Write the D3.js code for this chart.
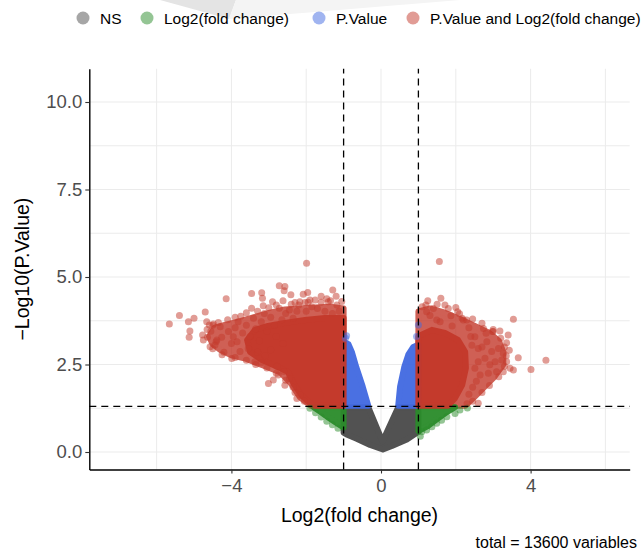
<!DOCTYPE html>
<html>
<head>
<meta charset="utf-8">
<script src="https://cdn.jsdelivr.net/npm/d3@7"></script>
<style>
  body { margin: 0; background: #fff; }
  svg { display: block; font-family: "Liberation Sans", Arial, sans-serif; }
</style>
</head>
<body>
<div id="volcano"></div>
<script>
// chart values: [log2 fold change, -log10 p]
const groups = ["NS", "Log2(fold change)", "P.Value", "P.Value and Log2(fold change)"];
const xTicks = [-4, 0, 4];
const yTicks = [0, 2.5, 5, 7.5, 10];
const xGrid = [-6, -4, -2, 0, 2, 4, 6];
const yGrid = [0, 1.25, 2.5, 3.75, 5, 6.25, 7.5, 8.75, 10];
const fcCutoff = 1;
const pCutoff = 0.05;
const totalVariables = 13600;

// outlines of the parts where points overlap into a solid mass
const nsOutline = [[-1.0,1.28],[-0.34,1.28],[0.04,0.3],[0.46,1.28],[1.0,1.28],[1.0,0.58],[0.69,0.36],[0.29,0.17],[0.05,0.07],[-0.29,0.2],[-0.65,0.38],[-0.92,0.5],[-1.0,0.55]];
const pOutlineLeft = [[-1.0,1.32],[-0.34,1.32],[-0.49,1.87],[-0.66,2.42],[-0.78,2.86],[-0.87,3.08],[-1.0,3.15]];
const pOutlineRight = [[0.46,1.32],[0.51,1.87],[0.62,2.42],[0.73,2.78],[0.86,3.0],[1.0,3.06],[1.0,1.32]];
const fcOutlineLeft = [[-1.0,1.28],[-1.8,1.28],[-1.62,1.15],[-1.4,0.98],[-1.15,0.8],[-1.0,0.7]];
const fcOutlineRight = [[1.0,1.28],[1.98,1.28],[1.76,1.14],[1.5,0.94],[1.25,0.74],[1.0,0.6]];
const sigCloudLeft = [[-1.0,1.32],[-1.87,1.32],[-2.17,1.57],[-2.4,1.95],[-2.7,2.28],[-3.15,2.47],[-3.6,2.66],[-4.0,2.76],[-4.3,2.92],[-4.5,3.08],[-4.6,3.3],[-4.45,3.55],[-4.15,3.64],[-3.77,3.74],[-3.37,3.86],[-2.97,3.98],[-2.57,4.07],[-2.17,4.1],[-1.76,4.13],[-1.36,4.15],[-1.0,4.1]];
const sigCoreLeft = [[-1.0,1.32],[-1.82,1.32],[-2.11,1.6],[-2.33,1.94],[-2.49,2.29],[-2.83,2.46],[-3.18,2.63],[-3.5,2.86],[-3.58,3.2],[-3.37,3.49],[-3.02,3.6],[-2.57,3.69],[-2.03,3.77],[-1.5,3.83],[-1.0,3.83]];
const sigCloudRight = [[1.0,1.32],[1.0,4.02],[1.31,4.1],[1.71,3.98],[2.11,3.8],[2.51,3.6],[2.9,3.4],[3.15,3.18],[3.27,2.86],[3.27,2.5],[3.02,2.13],[2.76,1.85],[2.49,1.56],[2.25,1.32]];
const sigCoreRight = [[1.0,1.32],[1.0,3.31],[1.36,3.49],[1.71,3.4],[2.06,3.2],[2.25,2.86],[2.27,2.4],[2.17,1.91],[1.98,1.54],[1.79,1.32]];

// single points lying outside the solid masses
const sigPoints = [
  [-5.66,3.66],[-5.39,3.9],[-5.15,3.72],[-5.0,3.82],[-5.11,3.46],[-5.13,3.28],
  [-4.7,4.0],[-4.66,3.72],[-4.59,3.63],[-4.48,3.66],[-4.77,3.34],[-4.64,3.28],
  [-4.41,3.15],[-4.57,3.01],[-4.44,3.06],[-4.39,3.2],[-4.14,4.38],[-4.26,3.28],
  [-4.08,3.44],[-3.82,3.72],[-3.95,3.29],[-3.99,2.67],[-3.77,2.87],[-3.46,4.53],
  [-3.46,4.11],[-3.41,3.82],[-3.37,2.58],[-3.19,4.55],[-3.17,4.39],[-3.12,3.96],
  [-2.9,4.29],[-2.72,4.75],[-2.57,4.73],[-2.59,4.61],[-2.72,4.11],[-2.41,4.49],
  [-2.3,4.27],[-2.17,4.29],[-2.08,4.51],[-1.96,4.56],[-1.99,5.39],[-2.03,4.27],
  [-1.9,4.34],[-1.76,4.34],[-1.29,4.63],[-1.41,4.29],[-1.18,4.2],[-3.01,1.96],
  [-2.88,2.06],[-2.75,2.2],[-2.57,1.91],[-2.17,1.63],[-2.25,1.53],
  [-3.9,3.55],[-3.7,3.4],[-3.6,3.62],[-3.5,3.3],[-3.35,3.52],[-3.25,3.18],
  [-3.2,3.72],[-3.05,3.45],[-2.95,3.85],[-2.85,3.62],[-2.8,3.3],[-2.65,3.78],
  [-2.55,3.96],[-2.45,4.06],[-2.35,3.82],[-2.25,4.02],[-2.62,3.1],[-3.55,2.95],
  [-3.3,2.85],[-3.1,2.75],[-2.95,2.92],[-4.3,3.58],[-4.0,3.1],[-3.75,3.88],
  [-3.15,4.18],[-2.62,4.32],[-2.0,4.02],[-1.7,4.1],[-1.5,4.02],[-1.3,3.96],
  [-1.12,4.02],[-1.6,4.45],[-1.45,4.38],[-1.85,4.15],[-1.2,4.45],[-1.05,4.3],
  [-2.78,2.45],[-2.6,2.3],[-2.45,2.1],[-2.35,1.85],[-3.2,2.55],[-4.2,2.85],
  [-3.85,3.15],[-4.55,3.45],
  [-4.75,3.2],[-4.65,3.5],[-4.5,3.62],[-4.35,3.7],[-4.1,3.78],[-3.9,3.85],
  [-3.6,3.98],[-3.3,4.02],[-3.0,4.12],[-2.8,4.2],[-2.4,4.22],[-2.2,4.2],
  [-1.95,4.28],[-1.6,4.28],[-1.35,4.32],[-4.5,2.95],[-4.25,2.78],[-3.9,2.7],
  [-3.6,2.62],[-3.35,2.5],[-3.05,2.4],[-2.8,2.25],[-2.55,2.05],[-2.3,1.7],
  [-2.05,1.45],
  [1.56,5.44],[1.25,4.32],[1.6,4.39],[1.71,4.2],[2.0,4.13],[2.05,4.01],
  [1.87,3.89],[2.17,3.82],[2.29,3.77],[1.22,4.01],[1.31,3.9],[1.49,3.77],
  [1.58,3.72],[2.74,3.53],[2.98,3.44],[3.54,3.79],[4.41,2.62],[4.01,2.36],
  [3.67,2.69],[3.43,2.91],[3.36,3.12],[3.4,3.34],[3.18,3.46],[3.0,3.44],
  [2.81,3.39],[2.2,3.77],[2.51,3.29],[2.43,3.05],[2.6,2.96],[2.83,3.15],
  [2.96,2.87],[3.14,2.96],[3.27,2.82],[3.23,2.63],[3.05,2.58],[3.36,2.58],
  [3.45,2.39],[3.54,2.34],[3.27,2.29],[3.09,2.29],[2.91,2.49],[2.78,2.68],
  [2.6,2.58],[2.51,2.39],[2.87,2.25],[2.65,2.2],[2.6,1.39],[2.45,1.85],
  [2.35,1.65],[2.55,2.02],[1.4,4.1],[1.1,4.15],[1.9,3.6],[2.35,3.55],
  [2.4,3.3],[2.7,3.0],
  [3.35,2.75],[3.3,3.0],[3.2,3.25],[3.0,3.5],[2.7,3.68],[2.45,3.8],
  [2.1,3.95],[1.8,4.1],[1.5,4.22],[1.2,4.2],[3.3,2.45],[3.15,2.15],
  [2.9,1.9],[2.7,1.7],[2.45,1.45],[2.3,1.38]
];
const fcPoints = [
  [2.31,1.26],[2.11,1.2],[1.98,1.1],[1.76,1.01],[1.62,0.91],[1.49,0.82],
  [1.36,0.72],[1.22,0.63],[1.09,0.58],[1.05,0.45],
  [-1.9,1.25],[-1.75,1.12],[-1.6,1.0],[-1.45,0.88],[-1.3,0.78],[-1.15,0.68]
];
const pPoints = [[1.0,3.63],[-0.92,3.32],[0.95,3.3],[-0.95,3.25]];

const width = 641, height = 551;

const svg = d3.select("#volcano").append("svg")
    .attr("width", width)
    .attr("height", height);

const x = d3.scaleLinear().domain([-7.8, 6.65]).range([89.3, 629.7]);
const y = d3.scaleLinear().domain([-0.5, 10.95]).range([469.5, 68.75]);
const colour = d3.scaleOrdinal()
    .domain(groups)
    .range(["#4d4d4d", "#2a8c2a", "#4169e1", "#c4392b"]);

// faint grey smear across the top of the source image
svg.append("path")
    .attr("d", "M160,0 L236,0 L229,19 Z")
    .attr("fill", "#e4e4e4");
svg.append("path")
    .attr("d", "M236,0 L460,0 L229,19 Z")
    .attr("fill", "#f4f4f4");

svg.append("clipPath").attr("id", "panel")
    .append("rect")
    .attr("x", x.range()[0]).attr("y", y.range()[1])
    .attr("width", x.range()[1] - x.range()[0])
    .attr("height", y.range()[0] - y.range()[1]);

// grid
let grid = svg.append("g").attr("stroke", "#ebebeb").attr("stroke-width", 1);
grid.selectAll(".gx").data(xGrid).enter().append("line")
    .attr("x1", d => x(d)).attr("x2", d => x(d))
    .attr("y1", y.range()[0]).attr("y2", y.range()[1]);
grid.selectAll(".gy").data(yGrid).enter().append("line")
    .attr("y1", d => y(d)).attr("y2", d => y(d))
    .attr("x1", x.range()[0]).attr("x2", x.range()[1]);

let plot = svg.append("g").attr("clip-path", "url(#panel)");

const outline = d3.line()
    .x(d => x(d[0]))
    .y(d => y(d[1]))
    .curve(d3.curveLinearClosed);

function mass(data, group, alpha) {
    plot.append("g").attr("opacity", alpha)
        .append("path")
        .attr("d", outline(data))
        .attr("fill", colour(group))
        .attr("stroke", colour(group))
        .attr("stroke-width", 6)
        .attr("stroke-linejoin", "round");
}

mass(sigCloudLeft, groups[3], 0.8);
mass(sigCloudRight, groups[3], 0.8);
mass(nsOutline, groups[0], 0.97);
mass(fcOutlineLeft, groups[1], 0.95);
mass(fcOutlineRight, groups[1], 0.95);
mass(pOutlineLeft, groups[2], 0.95);
mass(pOutlineRight, groups[2], 0.95);
mass(sigCoreLeft, groups[3], 0.96);
mass(sigCoreRight, groups[3], 0.96);

function dots(data, group) {
    plot.append("g").selectAll("circle")
        .data(data)
        .enter().append("circle")
        .attr("cx", d => x(d[0]))
        .attr("cy", d => y(d[1]))
        .attr("r", 3.5)
        .attr("fill", colour(group))
        .attr("fill-opacity", 0.5);
}

dots(fcPoints, groups[1]);
dots(pPoints, groups[2]);
dots(sigPoints, groups[3]);

// cut-off lines
let cuts = svg.append("g")
    .attr("stroke", "#000")
    .attr("stroke-width", 1.3)
    .attr("stroke-dasharray", "7,5");
cuts.selectAll(".vcut").data([-fcCutoff, fcCutoff]).enter().append("line")
    .attr("x1", d => x(d)).attr("x2", d => x(d))
    .attr("y1", y.range()[0]).attr("y2", y.range()[1]);
cuts.append("line")
    .attr("x1", x.range()[0]).attr("x2", x.range()[1])
    .attr("y1", y(-Math.log10(pCutoff))).attr("y2", y(-Math.log10(pCutoff)));

// axes
svg.append("g")
    .attr("transform", "translate(0," + y.range()[0] + ")")
    .call(d3.axisBottom(x).tickValues(xTicks).tickSize(4).tickSizeOuter(0).tickPadding(5));
svg.append("g")
    .attr("transform", "translate(" + x.range()[0] + ",0)")
    .call(d3.axisLeft(y).tickValues(yTicks).tickFormat(d3.format(".1f")).tickSize(4).tickSizeOuter(0).tickPadding(3));

svg.selectAll(".domain").attr("stroke", "#000").attr("stroke-width", 1.4);
svg.selectAll(".tick line").attr("stroke", "#333").attr("stroke-width", 1.1);
svg.selectAll(".tick text")
    .attr("fill", "#4d4d4d")
    .style("font-size", "18.5px")
    .style("font-family", "'Liberation Sans', Arial, sans-serif");

svg.append("text")
    .attr("x", (x.range()[0] + x.range()[1]) / 2)
    .attr("y", 522)
    .attr("text-anchor", "middle")
    .style("font-size", "19.5px")
    .text("Log2(fold change)");

svg.append("text")
    .attr("transform", "translate(29," + ((y.range()[0] + y.range()[1]) / 2) + ") rotate(-90)")
    .attr("text-anchor", "middle")
    .style("font-size", "19.5px")
    .text("\u2212Log10(P.Value)");

svg.append("text")
    .attr("x", 637)
    .attr("y", 548)
    .attr("text-anchor", "end")
    .style("font-size", "16px")
    .text("total = " + totalVariables + " variables");

// legend
let legend = svg.append("g").attr("class", "legend");
let keyX = [83, 147, 319, 413];
groups.forEach(function (g, i) {
    legend.append("circle")
        .attr("cx", keyX[i]).attr("cy", 18).attr("r", 6.5)
        .attr("fill", colour(g)).attr("fill-opacity", 0.5);
    legend.append("text")
        .attr("x", keyX[i] + 17).attr("y", 23.5)
        .style("font-size", "15.5px")
        .text(g);
});
</script>
</body>
</html>
